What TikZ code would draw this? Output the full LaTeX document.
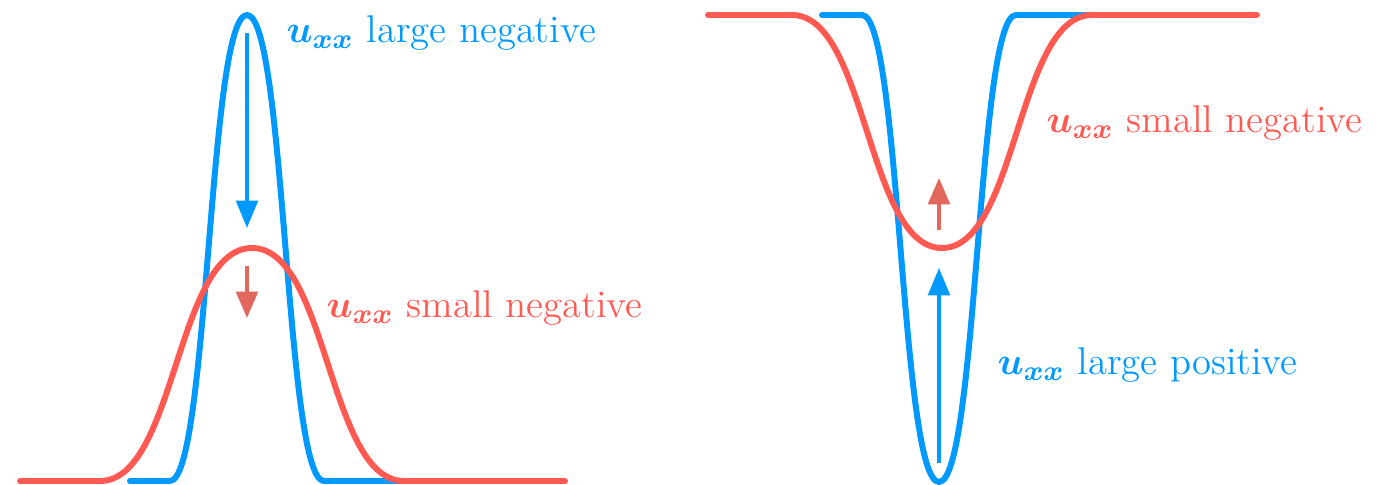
\documentclass[tikz,border=0pt]{standalone}
\usepackage{amsmath,bm}
\usetikzlibrary{arrows.meta}
\definecolor{cblue}{RGB}{0,153,255}
\definecolor{cred}{RGB}{255,90,82}
\definecolor{cdred}{RGB}{224,104,92}
\tikzset{
  curve/.style={line width=1.7pt, line cap=round, line join=round},
  bcurve/.style={curve, cblue},
  rcurve/.style={curve, cred},
  barrow/.style={cblue, line width=0.9pt, -{Triangle[length=7.8pt,width=6.2pt]}},
  rarrow/.style={cdred, line width=0.9pt, -{Triangle[length=7.5pt,width=6.2pt]}},
  lbl/.style={anchor=base west, inner sep=0pt, font=\fontsize{11}{13}\selectfont}
}
\begin{document}
\begin{tikzpicture}[x=0.01cm,y=-0.01cm]
\useasboundingbox (0,0) rectangle (1387,485);
% left panel
\draw[bcurve] (130,481) -- (170,481)
  .. controls (208.5,481) and (208.5,15) .. (247,15)
  .. controls (285.5,15) and (285.5,481) .. (324,481)
  -- (400,481);
\draw[rcurve] (20,481) -- (100,481)
  .. controls (176,481) and (176,248) .. (252,248)
  .. controls (328,248) and (328,481) .. (404,481)
  -- (565,481);
\coordinate (a1s) at (247,33);
\coordinate (a1e) at (247,228);
\coordinate (a2s) at (247,266);
\coordinate (a2e) at (247,318);
\draw[barrow] (a1s) -- (a1e);
\draw[rarrow] (a2s) -- (a2e);
\node[lbl, cblue] (l1) at (286,43) {$\bm{u_{xx}}$ large negative};
\node[lbl, cred] (l2) at (326,318) {$\bm{u_{xx}}$ small negative};
% right panel
\draw[bcurve] (822,15) -- (862,15)
  .. controls (900.5,15) and (900.5,482) .. (939,482)
  .. controls (977.5,482) and (977.5,15) .. (1016,15)
  -- (1092,15);
\draw[rcurve] (708,15) -- (792,15)
  .. controls (867,15) and (867,248) .. (942,248)
  .. controls (1017,248) and (1017,15) .. (1092,15)
  -- (1257,15);
\coordinate (b1s) at (939,463);
\coordinate (b1e) at (939,268);
\coordinate (b2s) at (939,230);
\coordinate (b2e) at (939,178);
\draw[barrow] (b1s) -- (b1e);
\draw[rarrow] (b2s) -- (b2e);
\node[lbl, cred] (r1) at (1046,133) {$\bm{u_{xx}}$ small negative};
\node[lbl, cblue] (r2) at (997,375) {$\bm{u_{xx}}$ large positive};
\end{tikzpicture}
\end{document}
